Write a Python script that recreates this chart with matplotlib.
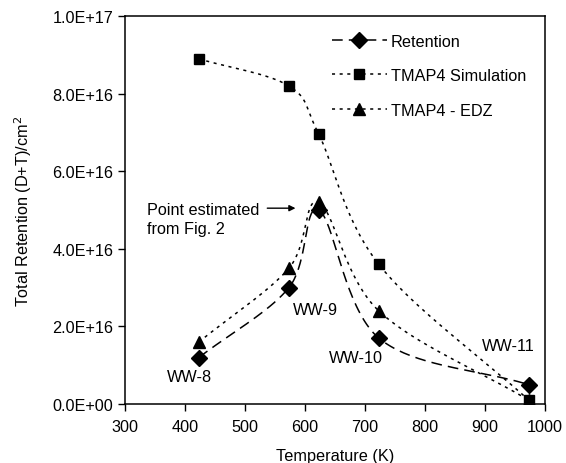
import numpy as np
import matplotlib.pyplot as plt

plt.rcParams['font.family'] = ['Liberation Sans', 'DejaVu Sans']

temps = [423, 573, 623, 723, 973]
retention = [1.2e16, 3.0e16, 5.0e16, 1.7e16, 0.5e16]
tmap4_sim = [8.9e16, 8.2e16, 6.95e16, 3.6e16, 0.1e16]
tmap4_edz = [1.6e16, 3.5e16, 5.2e16, 2.4e16, 0.1e16]
sample_names = ["WW-8", "WW-9", "WW-10", "WW-11"]
FS = 11.7


def smooth(x, y, n=40):
    # Excel-like smoothed line: Catmull-Rom through the points (in scaled units)
    x = np.asarray(x, float) / 700.0
    y = np.asarray(y, float) / 1e17
    px = np.concatenate([[2 * x[0] - x[1]], x, [2 * x[-1] - x[-2]]])
    py = np.concatenate([[2 * y[0] - y[1]], y, [2 * y[-1] - y[-2]]])
    xs, ys = [], []
    t = np.linspace(0, 1, n)
    for i in range(1, len(px) - 2):
        for p, out in ((px, xs), (py, ys)):
            p0, p1, p2, p3 = p[i - 1], p[i], p[i + 1], p[i + 2]
            out.extend(0.5 * ((2 * p1) + (-p0 + p2) * t
                              + (2 * p0 - 5 * p1 + 4 * p2 - p3) * t ** 2
                              + (-p0 + 3 * p1 - 3 * p2 + p3) * t ** 3))
    return np.array(xs) * 700.0, np.array(ys) * 1e17


fig = plt.figure(figsize=(5.66, 4.64), dpi=100)
ax = fig.add_axes([0.221, 0.127, 0.742, 0.836])

series = [
    (retention, "D", (0, (7, 4)), 8, "Retention"),
    (tmap4_sim, "s", (0, (2, 3)), 7.5, "TMAP4 Simulation"),
    (tmap4_edz, "^", (0, (2, 3)), 8, "TMAP4 - EDZ"),
]
for vals, mk, ls, ms, lab in series:
    sx, sy = smooth(temps, vals)
    ax.plot(sx, sy, color="black", linestyle=ls, linewidth=1.1)
    ax.plot(temps, vals, linestyle="none", marker=mk, color="black", markersize=ms)
    ax.plot([], [], color="black", linestyle=ls, linewidth=1.1, marker=mk,
            markersize=ms, label=lab)

ax.set_xlim(300, 1000)
ax.set_ylim(0, 1e17)
ax.set_xticks(np.arange(300, 1001, 100))
yt = np.arange(0, 1.01e17, 2e16)
ax.set_yticks(yt)
ax.set_yticklabels(["0.0E+00", "2.0E+16", "4.0E+16", "6.0E+16", "8.0E+16", "1.0E+17"])
ax.tick_params(direction="out", length=5, labelsize=FS, width=1)
ax.tick_params(axis="x", pad=6)
for s in ax.spines.values():
    s.set_linewidth(1.1)

ax.set_xlabel("Temperature (K)", fontsize=FS, labelpad=10)
ax.set_ylabel("Total Retention (D+T)/cm$^2$", fontsize=FS, labelpad=13)

ax.legend(loc="upper left", frameon=False, fontsize=FS, handlelength=3.4,
          labelspacing=1.2, handletextpad=0.25, borderpad=0, borderaxespad=0,
          bbox_to_anchor=(0.492, 0.955))

label_pos = [(408, 0.7e16), (617, 2.45e16), (685, 1.2e16), (938, 1.5e16)]
for name, (lx, ly) in zip(sample_names, label_pos):
    ax.text(lx, ly, name, fontsize=FS, ha="center", va="center")

ax.annotate("", xy=(584, 5.05e16), xytext=(537, 5.05e16),
            arrowprops=dict(arrowstyle="-|>", color="black", lw=1, mutation_scale=9,
                            shrinkA=0, shrinkB=0))
ax.text(337, 4.77e16, "Point estimated\nfrom Fig. 2", fontsize=FS, ha="left", va="center",
        linespacing=1.3)

fig.savefig("out.png", dpi=100)
